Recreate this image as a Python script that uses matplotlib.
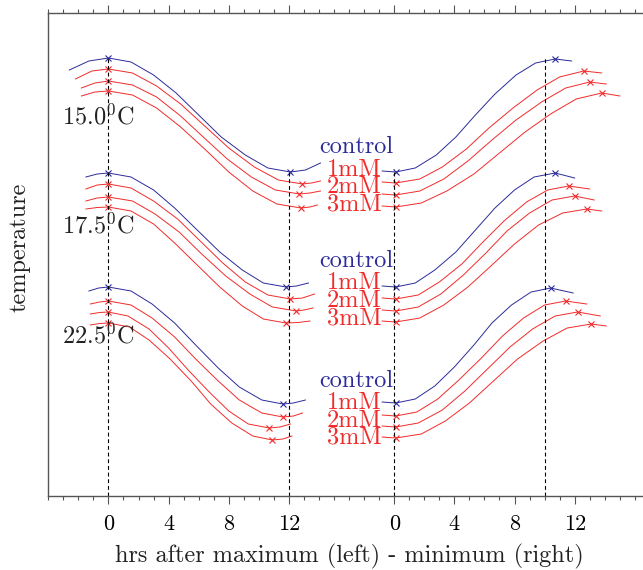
"""
Daily temperature cycles (max -> min, min -> max) for three rearing
temperatures and three treatment doses, replotted from the figure.
"""
import numpy as np
import matplotlib
matplotlib.use('Agg')
import matplotlib.pyplot as plt

plt.rcParams['font.family'] = 'serif'
plt.rcParams['font.serif'] = ['cmr10']
plt.rcParams['mathtext.fontset'] = 'cm'
plt.rcParams['axes.unicode_minus'] = False
plt.rcParams['axes.formatter.use_mathtext'] = True

temps = ['15.0', '17.5', '22.5']
treatments = ['control', '1mM', '2mM', '3mM']

# left half: hours after the daily maximum, one list per treatment
hrs_max_150 = [[-2.6, -1.3, 0, 1.5, 3.0, 4.5, 6.0, 7.5, 9.1, 10.6, 12.1, 13.1, 14.1],
               [-2.2, -1.1, 0, 1.6, 3.2, 4.8, 6.4, 8.0, 9.7, 11.3, 12.9, 13.5, 14.1],
               [-1.8, -0.9, 0, 1.6, 3.2, 4.8, 6.3, 7.9, 9.5, 11.1, 12.7, 13.4, 14.1],
               [-1.8, -0.9, 0, 1.6, 3.2, 4.8, 6.4, 8.0, 9.6, 11.2, 12.8, 13.4, 13.9]]
val_max_150 = [[42.6, 43.5, 43.8, 43.4, 42.1, 40.3, 38.1, 35.9, 34.1, 32.8, 32.4, 32.6, 33.3],
               [41.7, 42.5, 42.7, 42.3, 41.0, 39.2, 37.0, 34.8, 32.9, 31.6, 31.2, 31.3, 31.5],
               [40.8, 41.3, 41.5, 41.1, 39.9, 38.0, 35.9, 33.7, 31.9, 30.6, 30.2, 30.3, 30.5],
               [40.0, 40.4, 40.5, 40.1, 38.8, 36.9, 34.7, 32.4, 30.5, 29.2, 28.8, 28.9, 29.1]]
hrs_max_175 = [[-1.5, -0.75, 0, 1.5, 3.0, 4.4, 5.9, 7.4, 8.9, 10.3, 11.8, 12.5, 13.3],
               [-1.5, -0.75, 0, 1.5, 3.0, 4.6, 6.1, 7.6, 9.1, 10.6, 12.1, 12.9, 13.7],
               [-1.5, -0.75, 0, 1.6, 3.1, 4.7, 6.2, 7.8, 9.4, 10.9, 12.5, 13.0, 13.6],
               [-1.5, -0.75, 0, 1.5, 3.0, 4.4, 5.9, 7.4, 8.9, 10.3, 11.8, 12.6, 13.4]]
val_max_175 = [[31.9, 32.2, 32.3, 31.9, 30.6, 28.8, 26.6, 24.4, 22.6, 21.3, 20.9, 21.0, 21.3],
               [30.7, 31.1, 31.2, 30.8, 29.5, 27.7, 25.5, 23.3, 21.4, 20.1, 19.7, 19.8, 20.2],
               [29.5, 29.8, 29.9, 29.5, 28.2, 26.4, 24.2, 22.0, 20.2, 18.9, 18.5, 18.6, 18.8],
               [28.7, 28.85, 28.9, 28.5, 27.2, 25.3, 23.1, 20.9, 19.0, 17.7, 17.3, 17.35, 17.5]]
hrs_max_225 = [[-1.3, -0.65, 0, 1.5, 2.9, 4.4, 5.8, 7.3, 8.7, 10.2, 11.6, 12.3, 13.1],
               [-1.2, -0.6, 0, 1.5, 2.9, 4.4, 5.8, 7.3, 8.7, 10.2, 11.6, 12.3, 12.9],
               [-1.2, -0.6, 0, 1.3, 2.7, 4.0, 5.3, 6.7, 8.0, 9.3, 10.7, 11.4, 12.1],
               [-1.2, -0.6, 0, 1.4, 2.7, 4.1, 5.5, 6.8, 8.2, 9.6, 10.9, 11.6, 12.2]]
val_max_225 = [[20.5, 20.8, 20.9, 20.5, 19.2, 17.3, 15.1, 12.8, 10.9, 9.6, 9.2, 9.3, 9.6],
               [19.2, 19.4, 19.5, 19.1, 17.8, 15.9, 13.7, 11.5, 9.6, 8.3, 7.9, 8.0, 8.3],
               [18.2, 18.35, 18.4, 18.0, 16.7, 14.8, 12.6, 10.4, 8.5, 7.2, 6.8, 6.9, 7.2],
               [17.1, 17.25, 17.3, 16.9, 15.6, 13.7, 11.5, 9.2, 7.3, 6.0, 5.6, 5.7, 6.0]]

# right half: hours after the daily minimum
hrs_min_150 = [[-0.8, 0.1, 1.4, 2.8, 4.1, 5.4, 6.7, 8.1, 9.4, 10.7, 11.8],
               [-0.8, 0.1, 1.7, 3.2, 4.8, 6.3, 7.9, 9.5, 11.0, 12.6, 13.8],
               [-0.8, 0.1, 1.7, 3.3, 4.9, 6.5, 8.1, 9.8, 11.4, 13.0, 14.1],
               [-0.8, 0.1, 1.8, 3.5, 5.3, 7.0, 8.7, 10.4, 12.1, 13.8, 15.0]]
val_min_150 = [[32.5, 32.4, 32.8, 34.1, 35.9, 38.1, 40.2, 42.1, 43.3, 43.7, 43.5],
               [31.4, 31.3, 31.7, 32.9, 34.7, 36.8, 38.8, 40.6, 41.9, 42.5, 42.3],
               [30.2, 30.1, 30.5, 31.7, 33.5, 35.6, 37.6, 39.4, 40.8, 41.4, 41.2],
               [29.0, 28.9, 29.3, 30.5, 32.2, 34.3, 36.4, 38.2, 39.7, 40.3, 40.0]]
hrs_min_175 = [[-0.8, 0.1, 1.4, 2.7, 4.1, 5.4, 6.7, 8.0, 9.3, 10.7, 12.0],
               [-0.8, 0.1, 1.6, 3.0, 4.5, 5.9, 7.3, 8.8, 10.2, 11.6, 13.0],
               [-0.8, 0.1, 1.6, 3.1, 4.6, 6.1, 7.5, 9.0, 10.5, 12.0, 13.3],
               [-0.8, 0.1, 1.7, 3.3, 4.9, 6.5, 8.0, 9.6, 11.2, 12.8, 13.8]]
val_min_175 = [[21.0, 20.9, 21.3, 22.6, 24.4, 26.6, 28.8, 30.6, 31.9, 32.3, 31.8],
               [19.8, 19.7, 20.1, 21.4, 23.2, 25.4, 27.5, 29.4, 30.6, 31.0, 30.7],
               [18.6, 18.5, 18.9, 20.2, 22.1, 24.3, 26.5, 28.3, 29.6, 30.0, 29.6],
               [17.5, 17.4, 17.8, 19.1, 20.9, 23.1, 25.2, 27.1, 28.3, 28.7, 28.5]]
hrs_min_225 = [[-0.8, 0.1, 1.4, 2.7, 4.0, 5.3, 6.5, 7.8, 9.1, 10.4, 11.9],
               [-0.8, 0.1, 1.5, 2.9, 4.3, 5.8, 7.2, 8.6, 10.0, 11.4, 12.8],
               [-0.8, 0.1, 1.6, 3.2, 4.7, 6.2, 7.7, 9.2, 10.7, 12.2, 13.7],
               [-0.8, 0.1, 1.8, 3.4, 5.0, 6.6, 8.2, 9.9, 11.5, 13.1, 14.1]]
val_min_225 = [[9.4, 9.3, 9.7, 11.0, 12.9, 15.1, 17.3, 19.1, 20.4, 20.8, 20.3],
               [8.1, 8.0, 8.4, 9.7, 11.6, 13.8, 16.0, 17.8, 19.1, 19.5, 19.2],
               [7.0, 6.9, 7.3, 8.6, 10.5, 12.7, 14.9, 16.7, 18.0, 18.4, 18.0],
               [5.9, 5.8, 6.2, 7.5, 9.3, 11.5, 13.7, 15.5, 16.8, 17.2, 17.0]]

tick_hours = [0, 4, 8, 12]
dashed_max = [0, 12]   # hrs after maximum
dashed_min = [0, 10]   # hrs after minimum

hrs_max = [hrs_max_150, hrs_max_175, hrs_max_225]
val_max = [val_max_150, val_max_175, val_max_225]
hrs_min = [hrs_min_150, hrs_min_175, hrs_min_225]
val_min = [val_min_150, val_min_175, val_min_225]

RIGHT_OFFSET = 19   # where the "after minimum" half starts on the shared axis
BLUE = '#2b2b9b'
RED = '#f22a2a'
colors = [BLUE, RED, RED, RED]

fig = plt.figure(figsize=(6.43, 5.70), dpi=100)
ax = fig.add_axes([0.0751, 0.1298, 0.9356, 0.8474])

for g in range(len(temps)):
    for i in range(len(treatments)):
        t = np.array(hrs_max[g][i])
        y = np.array(val_max[g][i])
        ax.plot(t, y, color=colors[i], lw=0.7, solid_joinstyle='round')
        idx = [np.argmax(y), np.argmin(y)]
        ax.plot(t[idx], y[idx], 'x', color=colors[i], ms=4, mew=0.8)

        t = np.array(hrs_min[g][i]) + RIGHT_OFFSET
        y = np.array(val_min[g][i])
        ax.plot(t, y, color=colors[i], lw=0.7, solid_joinstyle='round')
        idx = [np.argmin(y), np.argmax(y)]
        ax.plot(t[idx], y[idx], 'x', color=colors[i], ms=4, mew=0.8)

# dashed guides run from the bottom up to the 15.0 C control curve
for h in dashed_max:
    top = np.interp(h, hrs_max_150[0], val_max_150[0])
    ax.plot([h, h], [0, top], ls=(0, (3.5, 2.5)), color='k', lw=0.8)
for h in dashed_min:
    top = np.interp(h, hrs_min_150[0], val_min_150[0]) + 0.3
    ax.plot([h + RIGHT_OFFSET] * 2, [0, top], ls=(0, (3.5, 2.5)), color='k', lw=0.8)

# labels
temp_base = [37.15, 26.3, 15.3]
trt_base = [[34.3, 32.0, 30.3, 28.6],
            [22.9, 20.7, 18.9, 17.2],
            [10.9, 8.7, 6.9, 5.3]]
for g, tc in enumerate(temps):
    ax.text(-3.1, temp_base[g], tc + r'$^0$C', fontsize=17.5, color='#222222',
            ha='left', va='baseline')
    for i, name in enumerate(treatments):
        xr = RIGHT_OFFSET - 0.07 if i == 0 else RIGHT_OFFSET - 0.85
        ax.text(xr, trt_base[g][i], name, fontsize=17.5, color=colors[i],
                ha='right', va='baseline')

ax.set_xlim(-4, 36)
ax.set_ylim(0, 48.3)
major = tick_hours + [h + RIGHT_OFFSET for h in tick_hours]
ax.set_xticks(major)
ax.set_xticklabels([str(h) for h in tick_hours] * 2)
ax.set_xticks(np.arange(-4, 36), minor=True)
ax.set_yticks([])
ax.tick_params(axis='x', which='both', direction='out', top=True, bottom=True,
               labeltop=False, color='#555555', width=0.8)
ax.tick_params(axis='x', which='major', length=6, labelsize=16, pad=7)
ax.tick_params(axis='x', which='minor', length=3)
for s in ax.spines.values():
    s.set_color('#555555')
    s.set_linewidth(1.0)

fig.text(349 / 643, 1 - 562 / 570, 'hrs after maximum (left) - minimum (right)',
         fontsize=17.5, ha='center', va='baseline', color='#222222')
fig.text(26 / 643, 1 - 247.5 / 570, 'temperature', fontsize=17.5, rotation=90,
         rotation_mode='anchor', ha='center', va='baseline', color='#222222')

fig.savefig('out.png', dpi=100)
